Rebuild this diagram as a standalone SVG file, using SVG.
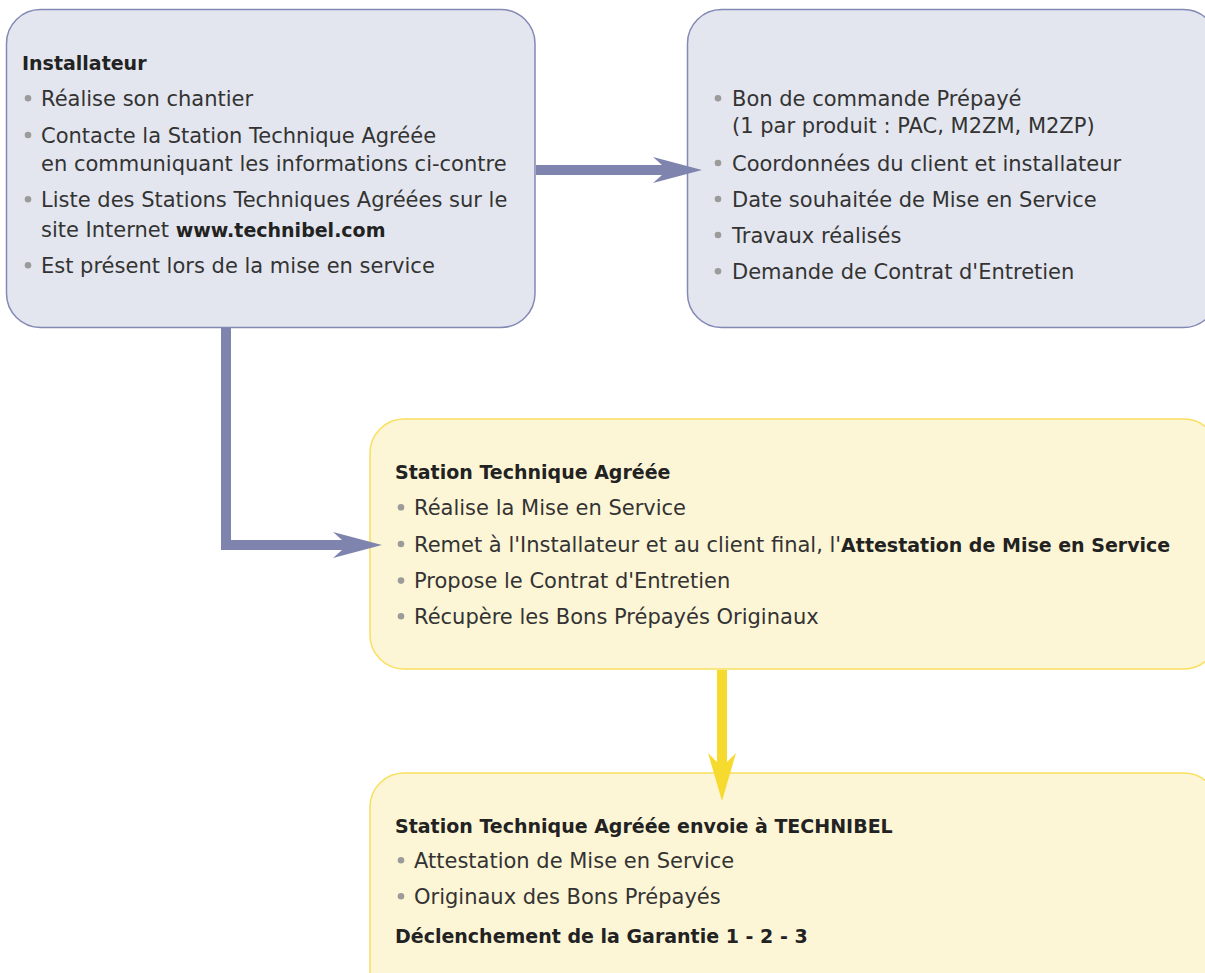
<svg xmlns="http://www.w3.org/2000/svg" width="1205" height="973" viewBox="0 0 1205 973">
<style>
.bg{fill:#ffffff}
.blue{fill:#e3e6ee;stroke:#8389b5;stroke-width:1.5}
.yel{fill:#fdf6d6;stroke:#f8df5e;stroke-width:1.5}
text{font-family:"DejaVu Sans","Liberation Sans",sans-serif;fill:#333333}
.t{font-size:21px}
.b{font-size:19px;font-weight:bold;fill:#222222}
.bb{font-weight:bold;font-size:19px;fill:#222222}
.dot{fill:#9b9b9b}
.pa{fill:#7f84ae}
.ya{fill:#f6da2e}
</style>
<rect class="bg" x="0" y="0" width="1205" height="973"/>
<g id="installateur">
<rect class="blue" x="6.5" y="9.5" width="528.5" height="318" rx="34"/>
<text class="b" x="22" y="70">Installateur</text>
<circle class="dot" cx="28" cy="98.3" r="3.3"/>
<text class="t" x="41" y="106">Réalise son chantier</text>
<circle class="dot" cx="28" cy="135" r="3.3"/>
<text class="t" x="41" y="142.7">Contacte la Station Technique Agréée</text>
<text class="t" x="41" y="170.7">en communiquant les informations ci-contre</text>
<circle class="dot" cx="28" cy="199.3" r="3.3"/>
<text class="t" x="41" y="207">Liste des Stations Techniques Agréées sur le</text>
<text class="t" x="41" y="237">site Internet <tspan class="bb">www.technibel.com</tspan></text>
<circle class="dot" cx="28" cy="265.3" r="3.3"/>
<text class="t" x="41" y="273">Est présent lors de la mise en service</text>
</g>
<g id="informations">
<rect class="blue" x="687.5" y="9.5" width="530" height="318" rx="34"/>
<circle class="dot" cx="718" cy="98.3" r="3.3"/>
<text class="t" x="732" y="106">Bon de commande Prépayé</text>
<text class="t" x="732" y="133">(1 par produit : PAC, M2ZM, M2ZP)</text>
<circle class="dot" cx="718" cy="163" r="3.3"/>
<text class="t" x="732" y="170.7">Coordonnées du client et installateur</text>
<circle class="dot" cx="718" cy="199" r="3.3"/>
<text class="t" x="732" y="206.7">Date souhaitée de Mise en Service</text>
<circle class="dot" cx="718" cy="235" r="3.3"/>
<text class="t" x="732" y="242.7">Travaux réalisés</text>
<circle class="dot" cx="718" cy="271.3" r="3.3"/>
<text class="t" x="732" y="279">Demande de Contrat d'Entretien</text>
</g>
<g id="station">
<rect class="yel" x="370" y="419" width="848" height="250" rx="34"/>
<text class="b" x="395" y="479.3">Station Technique Agréée</text>
<circle class="dot" cx="401" cy="507.3" r="3.3"/>
<text class="t" x="414" y="515">Réalise la Mise en Service</text>
<circle class="dot" cx="401" cy="544" r="3.3"/>
<text class="t" x="414" y="551.7">Remet à l'Installateur et au client final, l'<tspan class="bb">Attestation de Mise en Service</tspan></text>
<circle class="dot" cx="401" cy="580.6" r="3.3"/>
<text class="t" x="414" y="588.3">Propose le Contrat d'Entretien</text>
<circle class="dot" cx="401" cy="616.3" r="3.3"/>
<text class="t" x="414" y="624">Récupère les Bons Prépayés Originaux</text>
</g>
<g id="envoi">
<rect class="yel" x="370" y="773" width="848" height="250" rx="34"/>
<text class="b" x="395" y="832.7">Station Technique Agréée envoie à TECHNIBEL</text>
<circle class="dot" cx="401" cy="860.3" r="3.3"/>
<text class="t" x="414" y="868">Attestation de Mise en Service</text>
<circle class="dot" cx="401" cy="896.3" r="3.3"/>
<text class="t" x="414" y="904">Originaux des Bons Prépayés</text>
<text class="b" x="395" y="942.7">Déclenchement de la Garantie 1 - 2 - 3</text>
</g>
<g id="connectors">
<path class="pa" d="M536,165 H662 L653,157 L702,170 L653,183 L662,175 H536 Z"/>
<path class="pa" d="M221,328 H231 V540 H342 L333,532 L382,545 L333,558 L342,550 H221 Z"/>
<path class="ya" d="M717,670 H727 V762 L736,753 L722,801 L708,753 L717,762 Z"/>
</g>
</svg>
